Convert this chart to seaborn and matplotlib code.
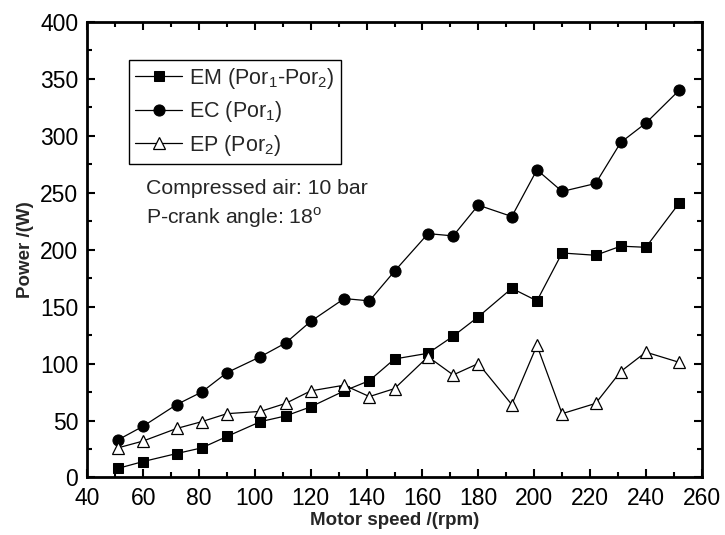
import pandas as pd
import matplotlib
matplotlib.use("Agg")
import matplotlib.pyplot as plt
import seaborn as sns
from matplotlib.ticker import MultipleLocator

# Motor speed (rpm) and power (W)
speed = [51, 60, 72, 81, 90, 102, 111, 120, 132, 141, 150,
         162, 171, 180, 192, 201, 210, 222, 231, 240, 252]
em_power = [8, 14, 21, 26, 36, 49, 54, 62, 76, 85, 104,
            109, 124, 141, 166, 155, 197, 195, 203, 202, 241]
ec_power = [33, 45, 64, 75, 92, 106, 118, 137, 157, 155, 181,
            214, 212, 239, 229, 270, 251, 258, 294, 311, 340]
ep_power = [26, 32, 43, 49, 56, 58, 65, 76, 81, 71, 78,
            106, 90, 100, 64, 116, 56, 65, 93, 110, 101]

labels = [r'EM (Por$\mathregular{_1}$-Por$\mathregular{_2}$)',
          r'EC (Por$\mathregular{_1}$)',
          r'EP (Por$\mathregular{_2}$)']

df = pd.DataFrame({'speed': speed, 'EM': em_power, 'EC': ec_power, 'EP': ep_power})

sns.set_style("ticks")
plt.rcParams['font.family'] = ['Liberation Sans', 'DejaVu Sans']
plt.rcParams['mathtext.fontset'] = 'custom'
plt.rcParams['mathtext.rm'] = 'Liberation Sans'

fig = plt.figure(figsize=(7.25, 5.35), dpi=100)
ax = fig.add_axes([0.1204, 0.1075, 0.8475, 0.852])

sns.lineplot(data=df, x='speed', y='EM', ax=ax, color='black', lw=0.9,
             marker='s', markersize=6.7, markerfacecolor='black',
             markeredgecolor='black', label=labels[0])
sns.lineplot(data=df, x='speed', y='EC', ax=ax, color='black', lw=0.9,
             marker='o', markersize=8, markerfacecolor='black',
             markeredgecolor='black', label=labels[1])
sns.lineplot(data=df, x='speed', y='EP', ax=ax, color='black', lw=0.9,
             marker='^', markersize=9, markerfacecolor='white',
             markeredgecolor='black', markeredgewidth=0.9, label=labels[2])

ax.set_xlim(40, 260)
ax.set_ylim(0, 400)
ax.xaxis.set_major_locator(MultipleLocator(20))
ax.xaxis.set_minor_locator(MultipleLocator(10))
ax.yaxis.set_major_locator(MultipleLocator(50))
ax.yaxis.set_minor_locator(MultipleLocator(25))
ax.tick_params(which='both', direction='in', top=True, right=True,
               width=1.5, labelsize=16.5, colors='black')
ax.tick_params(axis='x', pad=7)
ax.tick_params(axis='y', pad=6.5)
ax.tick_params(which='major', length=6)
ax.tick_params(which='minor', length=3.5)
for s in ax.spines.values():
    s.set_linewidth(2)
    s.set_color('black')

ax.set_xlabel('Motor speed /(rpm)', fontsize=13.5, fontweight='bold', labelpad=1)
ax.set_ylabel('Power /(W)', fontsize=13.5, fontweight='bold', labelpad=4)

ax.text(61, 254, 'Compressed air: 10 bar', fontsize=15.3, va='center')
ax.text(61, 228, r'P-crank angle: 18$^\mathregular{o}$', fontsize=15.3, va='center')

leg = ax.legend(loc='upper left', bbox_to_anchor=(0.068, 0.917), fontsize=15.5,
                frameon=True, fancybox=False, edgecolor='black', framealpha=1,
                handlelength=2.2, handletextpad=0.3, labelspacing=0.4,
                borderpad=0.28, borderaxespad=0)
leg.get_frame().set_linewidth(1)

fig.savefig('out.png', dpi=100)
